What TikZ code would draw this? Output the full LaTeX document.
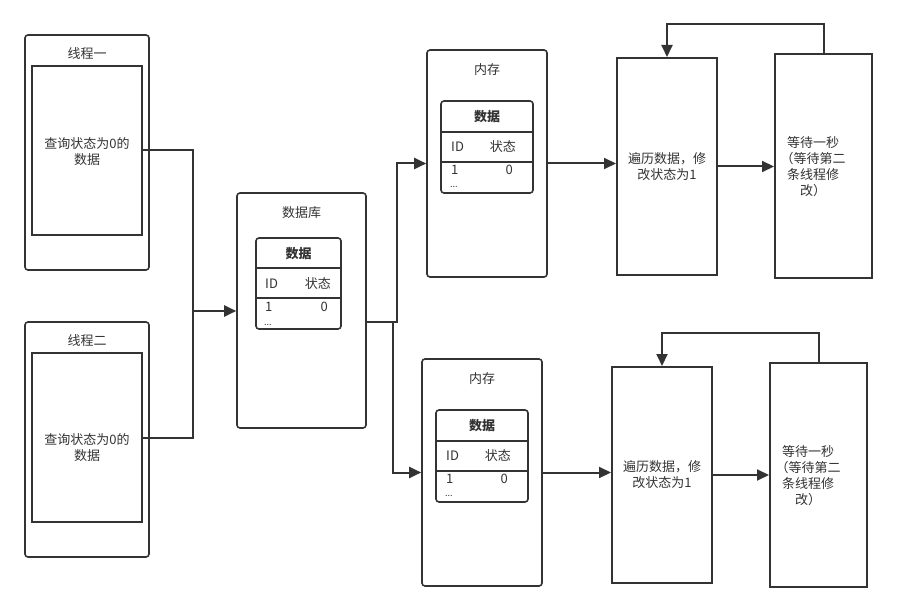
\documentclass[tikz,border=0pt]{standalone}
\usepackage{fontspec}
\setmainfont{Noto Sans CJK SC}
\usetikzlibrary{arrows.meta,calc}
\definecolor{ln}{HTML}{333333}
\begin{document}
\begin{tikzpicture}[x=1pt,y=-1pt,
  every node/.style={text=ln,font=\fontsize{13}{16}\selectfont},
  cont/.style={draw=ln,line width=1.6pt,rounded corners=3pt,inner sep=0pt},
  plain/.style={draw=ln,line width=2pt,inner sep=0pt},
  lbl/.style={inner sep=0pt,align=center},
  conn/.style={draw=ln,line width=2pt},
  arr/.style={conn,-{Triangle[length=12pt,width=11pt]}}]
\useasboundingbox (0,0) rectangle (897,612);
\fill[white] (0,0) rectangle (897,612);

% threads
\node[cont,minimum width=124pt,minimum height=235pt] (t1) at (87,152.5) {};
\node[plain,minimum width=110pt,minimum height=169pt] (t1in) at (87,150.5) {};
\node[lbl] (t1title) at (87,54) {线程一};
\node[lbl] (t1txt) at (87,152) {查询状态为0的\\数据};

\node[cont,minimum width=124pt,minimum height=235pt] (t2) at (87,439.5) {};
\node[plain,minimum width=110pt,minimum height=169pt] (t2in) at (87,437.5) {};
\node[lbl] (t2title) at (87,341) {线程二};
\node[lbl] (t2txt) at (87,448) {查询状态为0的\\数据};

% database
\node[cont,minimum width=129pt,minimum height=235pt] (db) at (301.5,310.5) {};
\node[lbl] (dbtitle) at (301.5,213) {数据库};
\node[cont,minimum width=85pt,minimum height=91pt] (dbtab) at (298.5,283.5) {};
\draw[ln,line width=1.6pt] (256,268) -- (341,268) (256,298) -- (341,298);
\node[lbl,font=\fontsize{13}{16}\selectfont\bfseries] (dbh) at (298.5,254) {数据};
\node[lbl,anchor=west] (dbid) at (265,284) {ID};
\node[lbl,anchor=east] (dbst) at (331,284) {状态};
\node[lbl,anchor=west] (db1) at (265,307) {1};
\node[lbl,anchor=east] (db0) at (328,307) {0};
\node[lbl,anchor=west,font=\fontsize{9}{10}\selectfont] (dbdots) at (264,325) {...};

% memory 1
\node[cont,minimum width=120pt,minimum height=227pt] (m1) at (487,163.5) {};
\node[lbl] (m1title) at (487,70) {内存};
\node[cont,minimum width=92pt,minimum height=92pt] (m1tab) at (487,147) {};
\draw[ln,line width=1.6pt] (441,132) -- (533,132) (441,162) -- (533,162);
\node[lbl,font=\fontsize{13}{16}\selectfont\bfseries] (m1h) at (487,117) {数据};
\node[lbl,anchor=west] (m1id) at (451,147) {ID};
\node[lbl,anchor=east] (m1st) at (516,147) {状态};
\node[lbl,anchor=west] (m11) at (451,170) {1};
\node[lbl,anchor=east] (m10) at (513,170) {0};
\node[lbl,anchor=west,font=\fontsize{9}{10}\selectfont] (m1dots) at (450,187) {...};

% memory 2
\node[cont,minimum width=120pt,minimum height=227pt] (m2) at (482,472.5) {};
\node[lbl] (m2title) at (482,379) {内存};
\node[cont,minimum width=92pt,minimum height=92pt] (m2tab) at (482,456) {};
\draw[ln,line width=1.6pt] (436,441) -- (528,441) (436,471) -- (528,471);
\node[lbl,font=\fontsize{13}{16}\selectfont\bfseries] (m2h) at (482,426) {数据};
\node[lbl,anchor=west] (m2id) at (446,456) {ID};
\node[lbl,anchor=east] (m2st) at (511,456) {状态};
\node[lbl,anchor=west] (m21) at (446,479) {1};
\node[lbl,anchor=east] (m20) at (508,479) {0};
\node[lbl,anchor=west,font=\fontsize{9}{10}\selectfont] (m2dots) at (445,496) {...};

% process boxes top
\node[plain,minimum width=100pt,minimum height=217pt] (b1a) at (667,166.5) {};
\node[lbl] (b1atxt) at (667,167) {遍历数据，修\\改状态为1};
\node[plain,minimum width=97pt,minimum height=224pt] (b2a) at (823.5,166) {};
\node[lbl] (b2atxt) at (813,167) {等待一秒\\（等待第二\\条线程修\\改）};

% process boxes bottom
\node[plain,minimum width=100pt,minimum height=216pt] (b1b) at (662,475) {};
\node[lbl] (b1btxt) at (662,475) {遍历数据，修\\改状态为1};
\node[plain,minimum width=97pt,minimum height=224pt] (b2b) at (818.5,475) {};
\node[lbl] (b2btxt) at (808,476) {等待一秒\\（等待第二\\条线程修\\改）};

% connectors
\coordinate (j) at (193,311);
\draw[conn] (t1in.east) -| (j);
\draw[conn] (t2in.east) -| (j);
\draw[arr] (j) -- (j -| db.west);
\coordinate (dbout) at (366,322);
\draw[arr] (dbout) -- (397,322) |- (m1.west);
\draw[arr] (dbout) -- (393,322) |- (m2.west);
\draw[arr] (m1.west -| m1.east) -- (m1.west -| b1a.west);
\draw[arr] (b1a.east) -- (b1a.east -| b2a.west);
\draw[arr] (b2a.north) -- ++(0,-29) -| (b1a.north);
\draw[arr] (m2.east) -- (m2.east -| b1b.west);
\draw[arr] (b1b.east) -- (b1b.east -| b2b.west);
\draw[arr] (b2b.north) -- ++(0,-29) -| (b1b.north);
\end{tikzpicture}
\end{document}
